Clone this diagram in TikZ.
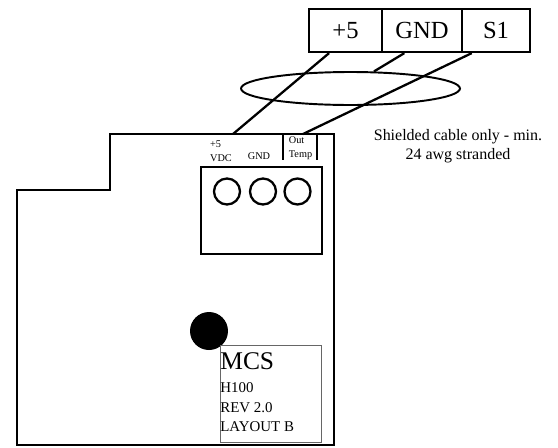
\documentclass[tikz,border=0pt]{standalone}
\usepackage{fontspec}
\setmainfont{Liberation Serif}
\usetikzlibrary{shapes.geometric}
\tikzset{pinbox/.style={draw,line width=1.3pt,inner sep=0pt,minimum height=0.86cm,font=\fontsize{14}{16}\selectfont}}
\tikzset{wire/.style={line width=1.3pt}}
\tikzset{pcb/.style={line width=1.3pt,line join=miter}}
\tikzset{hole/.style={circle,draw,line width=1.3pt,inner sep=0pt,minimum size=0.52cm}}
\tikzset{tiny/.style={inner sep=0pt,align=left,font=\fontsize{5.85}{7.8}\selectfont}}
\tikzset{marking/.style={anchor=base west,inner sep=0pt,font=\fontsize{8.5}{10}\selectfont}}

\begin{document}
\begin{tikzpicture}[x=0.02cm,y=-0.02cm]
    \useasboundingbox (0,0) rectangle (558,447);
    % plug on top
    \node[pinbox,minimum width=1.46cm] (pfive) at (345.5,30.5) {+5};
    \node[pinbox,minimum width=1.60cm] (pgnd) at (422,30.5) {GND};
    \node[pinbox,minimum width=1.36cm] (psone) at (496,30.5) {S1};
    % shield
    \node[ellipse,draw,line width=1.1pt,inner sep=0pt,minimum width=4.38cm,minimum height=0.66cm] (shield) at (350.5,88.5) {};
    % board
    \draw[pcb] (110,134) -- (334,134) -- (334,445) -- (17,445) -- (17,190) -- (110,190) -- cycle;
    \draw[pcb] (283,134) -- (283,160);
    \draw[pcb] (317,134) -- (317,160);
    \coordinate (vdcpad) at (233,134);
    \coordinate (temppad) at (303,134);
    \draw[wire] (pfive.234) -- (vdcpad);
    \draw[wire] (pgnd.232) -- (shield.36);
    \draw[wire] (psone.223) -- (temppad);
    % terminal block
    \node[draw,line width=1.3pt,inner sep=0pt,minimum width=2.42cm,minimum height=1.74cm] (block) at (261.5,210.5) {};
    \node[hole] (holea) at (227,191.5) {};
    \node[hole] (holeb) at (263,191.5) {};
    \node[hole] (holec) at (297.5,191.5) {};
    \node[tiny] (vdc) at (221,151) {+5\\VDC};
    \node[tiny] (gnd) at (259,156) {GND};
    \node[tiny] (temp) at (300.5,148.5) {Out\\Temp};
    \node[align=center,inner sep=0pt,font=\fontsize{9.1}{10.8}\selectfont] (note) at (458,146) {Shielded cable only - min.\\24 awg stranded};
    % label
    \node[circle,fill=black,inner sep=0pt,minimum size=0.76cm] (dot) at (209,331) {};
    \node[draw=black!60,line width=0.5pt,inner sep=0pt,minimum width=2.02cm,minimum height=1.94cm] (tag) at (270.5,393.5) {};
    \node[marking,font=\fontsize{14.5}{16}\selectfont] (mcs) at (220,369) {MCS};
    \node[marking] (hundred) at (220,392) {H100};
    \node[marking] (rev) at (220,412) {REV 2.0};
    \node[marking] (layout) at (220,431) {LAYOUT B};
\end{tikzpicture}
\end{document}
